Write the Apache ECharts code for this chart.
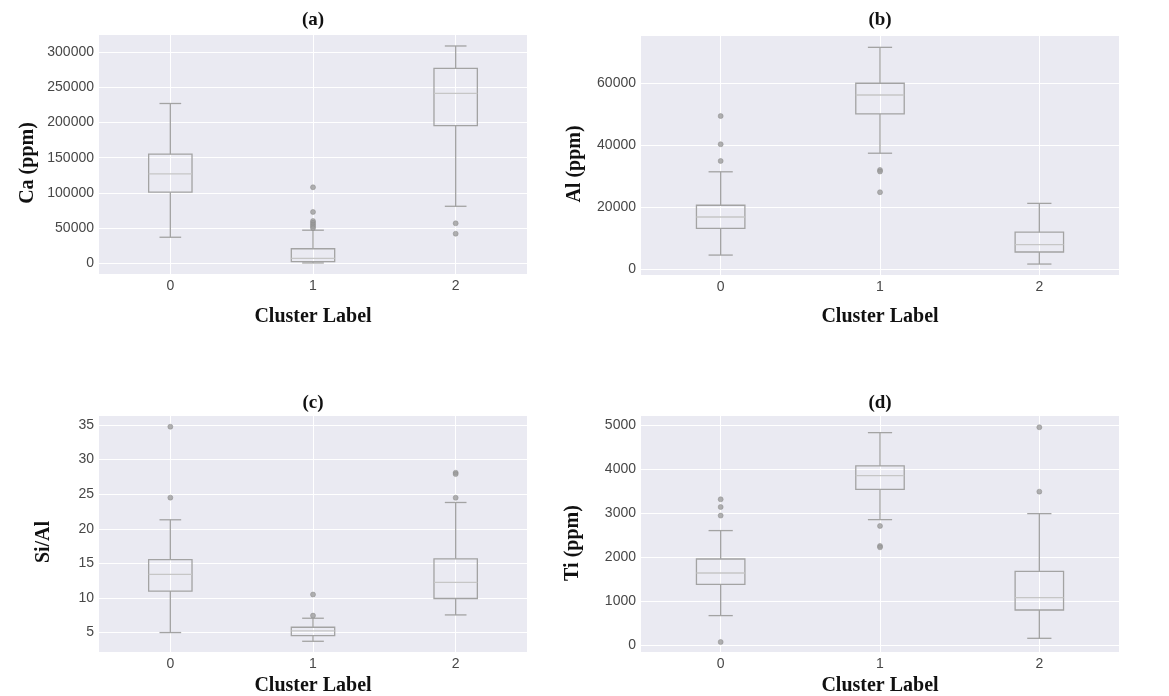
<!DOCTYPE html>
<html>
<head>
<meta charset="utf-8">
<script src="https://cdn.jsdelivr.net/npm/echarts@6/dist/echarts.min.js"></script>
<style>
  html, body { margin: 0; padding: 0; background: #fff; }
  #main { width: 1169px; height: 696px; }
</style>
</head>
<body>
<div id="main"></div>
<script>
// cluster labels on the x axis
const categories = ['0', '1', '2'];

// box stats per cluster: [lower whisker, Q1, median, Q3, upper whisker]
const caBoxes = [
  [37000, 101000, 127000, 155000, 227000],
  [500, 2300, 7100, 20700, 47000],
  [81000, 195500, 241500, 277000, 308700]
];
const caOutliers = [
  [],
  [108000, 72900, 60000, 57500, 55000, 52500, 50000],
  [56800, 42000]
];

const alBoxes = [
  [4500, 13100, 16800, 20600, 31400],
  [37400, 50100, 56200, 60000, 71600],
  [1600, 5500, 7850, 11900, 21200]
];
const alOutliers = [
  [49400, 40300, 34900],
  [32000, 31500, 24800],
  []
];

const siAlBoxes = [
  [5.0, 11.0, 13.4, 15.55, 21.3],
  [3.74, 4.57, 5.23, 5.77, 7.07],
  [7.55, 9.92, 12.24, 15.65, 23.8]
];
const siAlOutliers = [
  [34.75, 24.5],
  [10.5, 7.45],
  [28.1, 27.9, 24.48]
];

const tiBoxes = [
  [675, 1386, 1643, 1961, 2607],
  [2856, 3545, 3856, 4076, 4833],
  [159, 803, 1083, 1682, 2992]
];
const tiOutliers = [
  [3318, 3143, 2948, 75],
  [2712, 2258, 2227],
  [4955, 3492]
];

const chart = echarts.init(document.getElementById('main'));

const tickFont = { color: '#474747', fontSize: 14, fontFamily: 'Liberation Sans' };
const edge = { stroke: '#a3a3a3', lineWidth: 1.3, fill: null };
const mid = { stroke: '#c6c6c6', lineWidth: 1.3, fill: null };

// panels: grid box + y range of the seaborn axes
const panels = [
  { boxes: caBoxes, outliers: caOutliers, left: 99, top: 35, width: 428, height: 239, min: -15200, max: 324300, split: 6 },
  { boxes: alBoxes, outliers: alOutliers, left: 641, top: 36, width: 478, height: 239, min: -1935, max: 75260, split: 4 },
  { boxes: siAlBoxes, outliers: siAlOutliers, left: 99, top: 416, width: 428, height: 236, min: 2.19, max: 36.3, split: 6 },
  { boxes: tiBoxes, outliers: tiOutliers, left: 641, top: 416, width: 478, height: 236, min: -152, max: 5211, split: 5 }
];

function renderBox(params, api) {
  const c = api.value(0);
  const lo = api.coord([c, api.value(1)]);
  const q1 = api.coord([c, api.value(2)]);
  const md = api.coord([c, api.value(3)]);
  const q3 = api.coord([c, api.value(4)]);
  const hi = api.coord([c, api.value(5)]);
  const band = api.size([1, 0])[0];
  const hw = band * 0.152;
  const cw = hw / 2;
  const x = lo[0];
  return {
    type: 'group',
    children: [
      { type: 'line', shape: { x1: x, y1: hi[1], x2: x, y2: q3[1] }, style: edge },
      { type: 'line', shape: { x1: x, y1: q1[1], x2: x, y2: lo[1] }, style: edge },
      { type: 'line', shape: { x1: x - cw, y1: hi[1], x2: x + cw, y2: hi[1] }, style: edge },
      { type: 'line', shape: { x1: x - cw, y1: lo[1], x2: x + cw, y2: lo[1] }, style: edge },
      { type: 'rect', shape: { x: x - hw, y: q3[1], width: 2 * hw, height: q1[1] - q3[1] }, style: edge },
      { type: 'line', shape: { x1: x - hw, y1: md[1], x2: x + hw, y2: md[1] }, style: mid }
    ]
  };
}

const grid = [], xAxis = [], yAxis = [], series = [];
panels.forEach(function (p, i) {
  grid.push({
    left: p.left, top: p.top, width: p.width, height: p.height,
    show: true, backgroundColor: '#eaeaf2', borderWidth: 0
  });
  xAxis.push({
    gridIndex: i, type: 'value', min: -0.5, max: 2.5, splitNumber: 3,
    axisLine: { show: false }, axisTick: { show: false },
    axisLabel: Object.assign({
      margin: 5, showMinLabel: false, showMaxLabel: false,
      formatter: function (v) { return Number.isInteger(v) ? categories[v] : ''; }
    }, tickFont),
    splitLine: { show: true, showMinLine: false, showMaxLine: false, lineStyle: { color: '#ffffff', width: 1 } }
  });
  yAxis.push({
    gridIndex: i, type: 'value', min: p.min, max: p.max, splitNumber: p.split,
    axisLine: { show: false }, axisTick: { show: false },
    axisLabel: Object.assign({
      margin: 5, showMinLabel: false, showMaxLabel: false,
      formatter: function (v) { return String(v); }
    }, tickFont),
    splitLine: { show: true, showMinLine: false, showMaxLine: false, lineStyle: { color: '#ffffff', width: 1 } }
  });
  series.push({
    type: 'custom',
    xAxisIndex: i, yAxisIndex: i,
    renderItem: renderBox,
    encode: { x: 0, y: [1, 2, 3, 4, 5] },
    data: p.boxes.map(function (b, k) { return [k].concat(b); }),
    z: 3
  });
  const pts = [];
  p.outliers.forEach(function (vals, k) {
    vals.forEach(function (v) { pts.push([k, v]); });
  });
  series.push({
    type: 'scatter',
    xAxisIndex: i, yAxisIndex: i,
    symbolSize: 5,
    itemStyle: { color: '#9c9c9c', borderColor: '#8a8a8a', borderWidth: 0.6 },
    data: pts,
    z: 4
  });
});

const serif = '"Liberation Serif", "Times New Roman", serif';
function label(text, x, y, size, rotate) {
  return {
    type: 'text', x: x, y: y, rotation: rotate ? Math.PI / 2 : 0,
    style: {
      text: text, font: 'bold ' + size + 'px ' + serif, fill: '#111',
      align: 'center', verticalAlign: 'middle', textAlign: 'center', textVerticalAlign: 'middle'
    }
  };
}

const graphic = [
  label('(a)', 313, 20, 19), label('(b)', 880, 20, 19),
  label('(c)', 313, 403, 19), label('(d)', 880, 403, 19),
  label('Cluster Label', 313, 317, 20), label('Cluster Label', 880, 317, 20),
  label('Cluster Label', 313, 686, 20), label('Cluster Label', 880, 686, 20),
  label('Ca (ppm)', 28, 163, 20, true), label('Al (ppm)', 575, 164, 20, true),
  label('Si/Al', 44, 542, 20, true), label('Ti (ppm)', 573, 543, 20, true)
];

chart.setOption({
  backgroundColor: '#ffffff',
  animation: false,
  grid: grid,
  xAxis: xAxis,
  yAxis: yAxis,
  series: series,
  graphic: graphic
});
</script>
</body>
</html>
